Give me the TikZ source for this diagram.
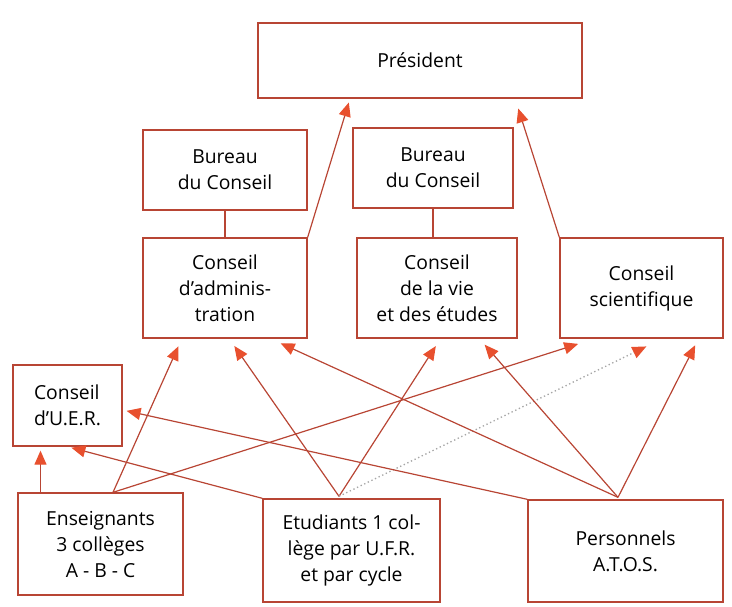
\documentclass[tikz,border=0pt]{standalone}
\usepackage{fontspec}
\setmainfont{Open Sans}
\usetikzlibrary{arrows.meta}

\definecolor{trait}{HTML}{B84534}
\definecolor{pointe}{HTML}{E8502E}

\tikzset{
  boite/.style={draw=trait, line width=1pt, align=center, inner sep=0pt,
    font=\fontsize{14.5}{19.5}\selectfont},
  fleche/.style={->, draw=trait, line width=0.9pt, shorten >=3pt},
  pointille/.style={->, draw=gray!70, line width=1pt, dotted, shorten >=3pt},
}

\begin{document}
\begin{tikzpicture}[x=0.75pt, y=-0.75pt,
  >={Triangle[length=10.5pt, width=9pt, color=pointe]}]

\useasboundingbox (0,0) rectangle (732,607);

% Boites du haut
\node[boite, minimum width=243pt, minimum height=56.25pt] (pres) at (420,60.5) {Président};
\node[boite, minimum width=123pt, minimum height=60pt] (bur1) at (225,170) {Bureau\\du Conseil};
\node[boite, minimum width=120pt, minimum height=60pt] (bur2) at (433,168) {Bureau\\du Conseil};

% Conseils
\node[boite, minimum width=123pt, minimum height=75pt] (adm) at (225,288) {Conseil\\d'adminis-\\tration};
\node[boite, minimum width=120pt, minimum height=75pt] (vie) at (437,288) {Conseil\\de la vie\\et des études};
\node[boite, minimum width=122.25pt, minimum height=75pt] (sci) at (641.5,288) {Conseil\\scientifique};
\node[boite, align=left, minimum width=81.75pt, minimum height=60.75pt] (uer) at (67.5,405.5) {Conseil\\d'U.E.R.};

% Colleges electoraux
\node[boite, minimum width=123.75pt, minimum height=76.5pt] (ens) at (100.5,544) {Enseignants\\3 collèges\\A - B - C};
\node[boite, minimum width=132.75pt, minimum height=77.25pt] (etu) at (351.5,550.5) {Etudiants 1 col-\\lège par U.F.R.\\et par cycle};
\node[boite, minimum width=146.25pt, minimum height=76.5pt] (pers) at (625.5,551) {Personnels\\A.T.O.S.};

% Bureaux
\draw[trait, line width=0.9pt] (bur1.south) -- (bur1.south |- adm.north);
\draw[trait, line width=0.9pt] (bur2.south) -- (bur2.south |- vie.north);

% Vers le president
\draw[fleche] (adm.north east) -- ([shift={(-70,0)}]pres.south);
\draw[fleche] (sci.north west) -- ([shift={(97,6)}]pres.south);

% Enseignants
\coordinate (ens-haut) at ([shift={(12.5,0)}]ens.north);
\draw[fleche] ([shift={(-60,0)}]ens.north) -- ([shift={(-27,0)}]uer.south);
\foreach \n/\dx in {adm/-45, sci/-59.5}
  \draw[fleche] (ens-haut) -- ([shift={(\dx,4)}]\n.south);

% Etudiants
\coordinate (etu-haut) at ([shift={(-12.5,-2)}]etu.north);
\foreach \n/\dx in {adm/7, vie/1}
  \draw[fleche] (etu-haut) -- ([shift={(\dx,4)}]\n.south);
\draw[pointille] (etu-haut) -- ([shift={(8.5,6)}]sci.south);
\draw[fleche] (etu.north west) -- (uer.south);

% Personnels
\coordinate (pers-haut) at ([shift={(-7.5,-2)}]pers.north);
\foreach \n/\dx in {adm/52, vie/45, sci/55.5}
  \draw[fleche] (pers-haut) -- ([shift={(\dx,3)}]\n.south);
\draw[fleche] (pers.north west) -- ([shift={(0,4.5)}]uer.east);

\end{tikzpicture}
\end{document}
